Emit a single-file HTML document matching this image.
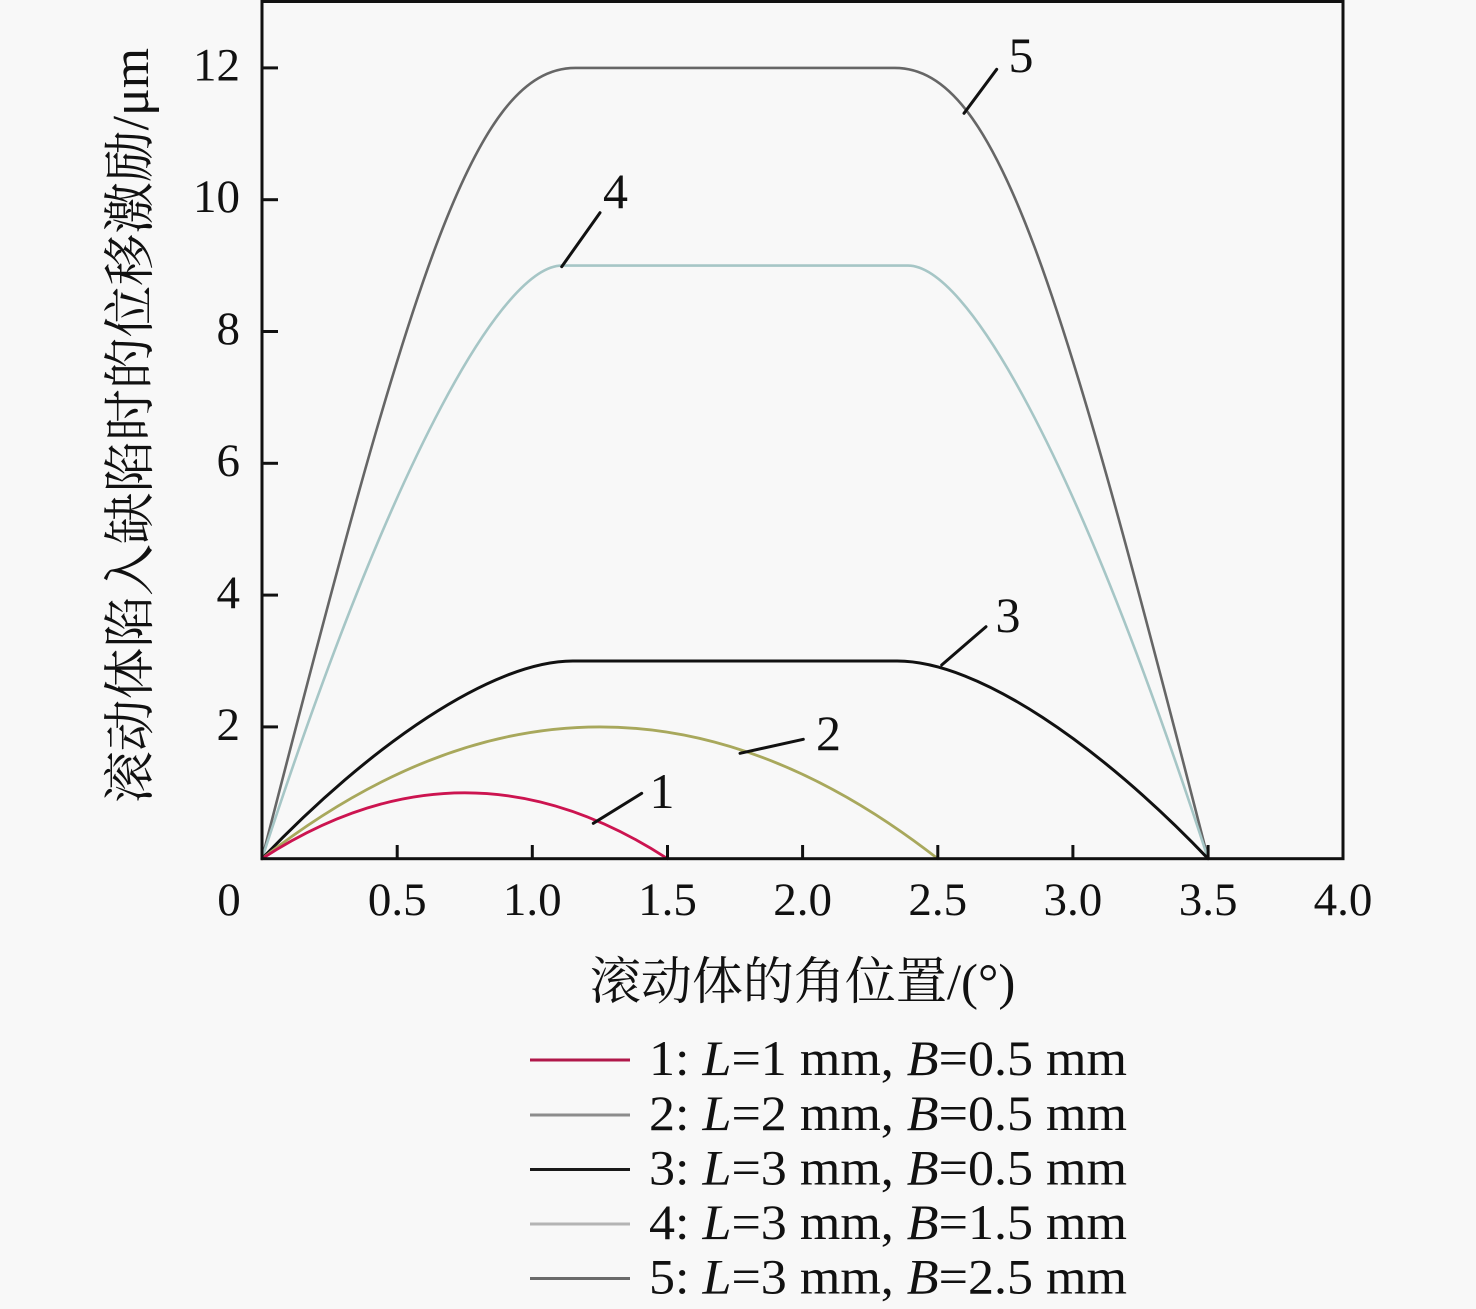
<!DOCTYPE html>
<html><head><meta charset="utf-8"><style>
html,body{margin:0;padding:0;background:#f8f8f8;}
svg{display:block;}
text{font-family:"Liberation Serif","Noto Serif CJK SC",serif;fill:#111;}
</style></head><body>
<svg width="1476" height="1309" viewBox="0 0 1476 1309" xmlns="http://www.w3.org/2000/svg">
<rect x="0" y="0" width="1476" height="1309" fill="#f8f8f8"/>

<!-- curves -->
<g fill="none" stroke-linejoin="round" stroke-linecap="round">
<path d="M262,858.7 C410.7,278.8 472.8,67.9 575.3,67.9 L894.8,67.9 C997.2,67.9 1059.4,278.8 1208.1,858.7" stroke="#666" stroke-width="2.6"/>
<path d="M262,858.7 C397.2,443.5 505.3,265.6 562.0,265.6 L908.0,265.6 C964.8,265.6 1072.9,443.5 1208.1,858.7" stroke="#a6c6c6" stroke-width="2.6"/>
<path d="M262,858.7 C370.1,745.4 491.8,661.0 572.8,661.0 L897.2,661.0 C978.3,661.0 1100.0,745.4 1208.1,858.7" stroke="#111" stroke-width="3"/>
<path d="M262,858.7 Q599.9,595.1 937.8,858.7" stroke="#a8a85c" stroke-width="2.8"/>
<path d="M262,858.7 Q464.7,726.9 667.5,858.7" stroke="#cc1450" stroke-width="2.8"/>
</g>

<!-- axes frame -->
<rect x="262" y="1.5" width="1081" height="857.2" fill="none" stroke="#111" stroke-width="3"/>

<!-- y ticks -->
<g stroke="#111" stroke-width="3">
<line x1="262" y1="726.9" x2="278" y2="726.9"/>
<line x1="262" y1="595.1" x2="278" y2="595.1"/>
<line x1="262" y1="463.3" x2="278" y2="463.3"/>
<line x1="262" y1="331.5" x2="278" y2="331.5"/>
<line x1="262" y1="199.7" x2="278" y2="199.7"/>
<line x1="262" y1="67.9" x2="278" y2="67.9"/>
<!-- x ticks -->
<line x1="397.2" y1="858.7" x2="397.2" y2="845"/>
<line x1="532.3" y1="858.7" x2="532.3" y2="845"/>
<line x1="667.5" y1="858.7" x2="667.5" y2="845"/>
<line x1="802.6" y1="858.7" x2="802.6" y2="845"/>
<line x1="937.8" y1="858.7" x2="937.8" y2="845"/>
<line x1="1072.9" y1="858.7" x2="1072.9" y2="845"/>
<line x1="1208.1" y1="858.7" x2="1208.1" y2="845"/>
</g>

<!-- y tick labels -->
<g font-size="47" text-anchor="end">
<text x="240" y="740">2</text>
<text x="240" y="608">4</text>
<text x="240" y="476">6</text>
<text x="240" y="344">8</text>
<text x="240" y="212">10</text>
<text x="240" y="80.5">12</text>
</g>
<!-- x tick labels -->
<g font-size="47" text-anchor="middle">
<text x="229" y="915">0</text>
<text x="397.2" y="915">0.5</text>
<text x="532.3" y="915">1.0</text>
<text x="667.5" y="915">1.5</text>
<text x="802.6" y="915">2.0</text>
<text x="937.8" y="915">2.5</text>
<text x="1072.9" y="915">3.0</text>
<text x="1208.1" y="915">3.5</text>
<text x="1343" y="915">4.0</text>
</g>

<!-- axis titles -->
<text x="802.6" y="999" font-size="51" text-anchor="middle">滚动体的角位置/(°)</text>
<text transform="translate(148,425.5) rotate(-90)" font-size="52" text-anchor="middle" textLength="755" lengthAdjust="spacingAndGlyphs">滚动体陷入缺陷时的位移激励/μm</text>

<!-- annotations -->
<g stroke="#111" stroke-width="3" stroke-linecap="round">
<line x1="593.3" y1="823.3" x2="641.7" y2="793.3"/>
<line x1="740" y1="753.3" x2="803.3" y2="739.3"/>
<line x1="941.7" y1="665" x2="986" y2="626.7"/>
<line x1="561.7" y1="266.7" x2="600" y2="212.7"/>
<line x1="964" y1="113.3" x2="996.7" y2="69.3"/>
</g>
<g font-size="50" text-anchor="middle">
<text x="662" y="808">1</text>
<text x="828.5" y="750">2</text>
<text x="1008" y="632">3</text>
<text x="615.5" y="208">4</text>
<text x="1021" y="72">5</text>
</g>

<!-- legend -->
<g stroke-width="3">
<line x1="530" y1="1060" x2="630" y2="1060" stroke="#b0184a"/>
<line x1="530" y1="1115" x2="630" y2="1115" stroke="#8c8c8c"/>
<line x1="530" y1="1169.5" x2="630" y2="1169.5" stroke="#1a1a1a"/>
<line x1="530" y1="1224" x2="630" y2="1224" stroke="#b4b4b4"/>
<line x1="530" y1="1278.5" x2="630" y2="1278.5" stroke="#6a6a6a"/>
</g>
<g font-size="50">
<text x="649" y="1075" textLength="478" lengthAdjust="spacingAndGlyphs">1: <tspan font-style="italic">L</tspan>=1 mm, <tspan font-style="italic">B</tspan>=0.5 mm</text>
<text x="649" y="1130" textLength="478" lengthAdjust="spacingAndGlyphs">2: <tspan font-style="italic">L</tspan>=2 mm, <tspan font-style="italic">B</tspan>=0.5 mm</text>
<text x="649" y="1184.5" textLength="478" lengthAdjust="spacingAndGlyphs">3: <tspan font-style="italic">L</tspan>=3 mm, <tspan font-style="italic">B</tspan>=0.5 mm</text>
<text x="649" y="1239" textLength="478" lengthAdjust="spacingAndGlyphs">4: <tspan font-style="italic">L</tspan>=3 mm, <tspan font-style="italic">B</tspan>=1.5 mm</text>
<text x="649" y="1293.5" textLength="478" lengthAdjust="spacingAndGlyphs">5: <tspan font-style="italic">L</tspan>=3 mm, <tspan font-style="italic">B</tspan>=2.5 mm</text>
</g>
</svg>
</body></html>
